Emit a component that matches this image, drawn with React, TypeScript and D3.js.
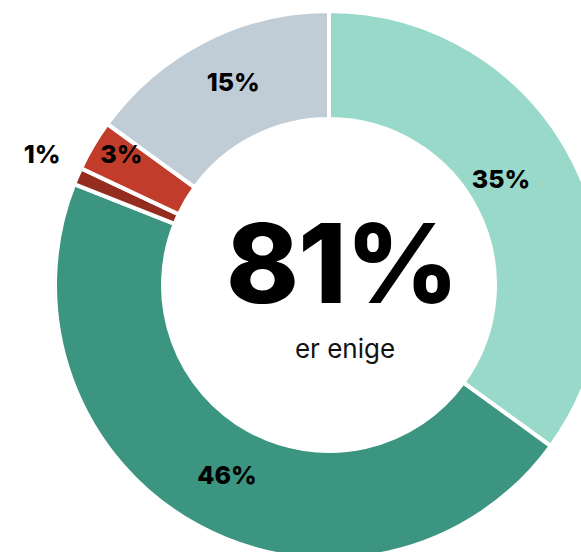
import { useEffect, useRef } from 'react'
import * as d3 from 'd3'

const categories = ['a', 'b', 'c', 'd', 'e']
const values = [35, 46, 1, 3, 15]
const labels = ['35%', '46%', '1%', '3%', '15%']
const colors = ['#99d9c9', '#3b9580', '#952c20', '#c23c2b', '#c0ccd6']
const centerValue = '81%'
const centerText = 'er enige'

export default function App() {
  const svgRef = useRef<SVGSVGElement>(null)

  useEffect(() => {
    if (!svgRef.current) return
    const svg = d3.select(svgRef.current)
    svg.selectAll('*').remove()

    const width = 581
    const height = 552
    const cx = 329
    const cy = 285
    const outer = 274
    const inner = 166

    const g = svg
      .attr('width', width)
      .attr('height', height)
      .append('g')
      .attr('transform', `translate(${cx},${cy})`)

    const pie = d3.pie<number>().sort(null).value(d => d)
    const arcs = pie(values)

    const arc = d3.arc<d3.PieArcDatum<number>>()
      .innerRadius(inner)
      .outerRadius(outer)

    g.selectAll('path')
      .data(arcs)
      .enter()
      .append('path')
      .attr('d', arc)
      .attr('fill', (_, i) => colors[i])
      .attr('stroke', '#fff')
      .attr('stroke-width', 4)

    // label radius depends on slice size, keep labels away from right edge
    const labelR = (v: number) => (v < 2 ? 318 : v < 5 ? 247 : 222)
    const maxX = width - 80 - cx

    g.selectAll('.label')
      .data(arcs)
      .enter()
      .append('text')
      .attr('class', 'label')
      .attr('transform', d => {
        const a = (d.startAngle + d.endAngle) / 2
        const r = labelR(d.data)
        const x = Math.min(r * Math.sin(a) + 5, maxX)
        const y = -r * Math.cos(a) - 5
        return `translate(${x},${y})`
      })
      .attr('text-anchor', 'middle')
      .attr('dy', '0.36em')
      .style('font-family', 'Inter, sans-serif')
      .style('font-weight', 800)
      .style('font-size', '25px')
      .style('fill', '#000')
      .text((_, i) => labels[i])

    g.append('text')
      .attr('x', 13)
      .attr('y', 18)
      .attr('text-anchor', 'middle')
      .style('font-family', 'Inter, sans-serif')
      .style('font-weight', 800)
      .style('font-size', '110px')
      .style('letter-spacing', '-1px')
      .style('fill', '#000')
      .text(centerValue)

    g.append('text')
      .attr('x', 16)
      .attr('y', 73)
      .attr('text-anchor', 'middle')
      .style('font-family', 'Inter, sans-serif')
      .style('font-weight', 400)
      .style('font-size', '26px')
      .style('fill', '#111')
      .text(centerText)
  }, [])

  return (
    <svg
      ref={svgRef}
      data-categories={categories.join(',')}
      style={{ position: 'absolute', left: 0, top: 0 }}
    />
  )
}
